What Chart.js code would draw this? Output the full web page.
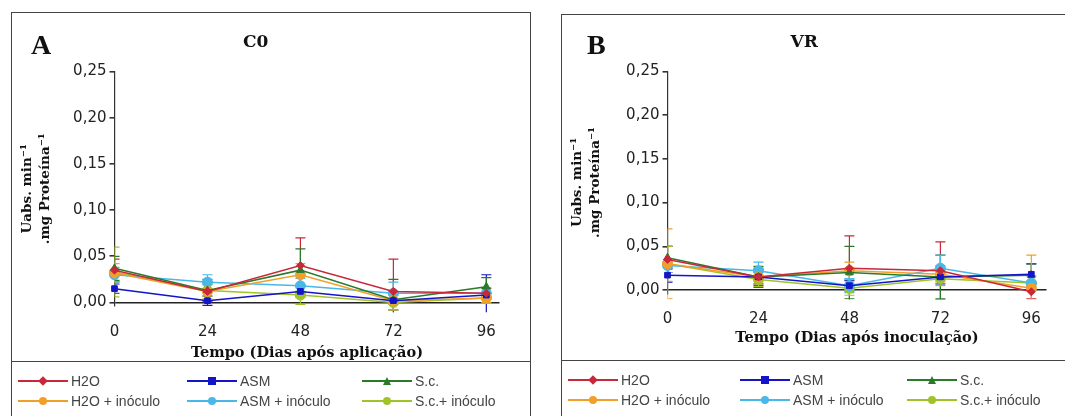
<!DOCTYPE html>
<html>
<head>
<meta charset="utf-8">
<script src="https://cdn.jsdelivr.net/npm/chart.js@4"></script>
<style>
body{margin:0;background:#fff;width:1065px;height:416px;overflow:hidden;position:relative;font-family:"Liberation Sans",Arial,sans-serif}
.panel{position:absolute;border:1.5px solid #444}
#pA{left:11px;top:12px;width:518px;height:420px}
#pB{left:561px;top:14px;width:520px;height:420px}
.panel canvas{position:absolute;left:0;top:0}
.tag{position:absolute;font:bold 28px "Liberation Serif",serif;color:#111}
.leg{position:absolute;left:0;right:0;height:80px;border-top:1.5px solid #444}
.it{position:absolute;height:16px;font-size:14px;color:#444;display:flex;align-items:center;white-space:nowrap}
.sw{position:relative;width:50px;height:16px;margin-right:3px}
.ln{position:absolute;left:0;right:0;top:7px;height:1.5px}
.mk{position:absolute;left:21px;top:4px;width:8px;height:8px}
</style>
</head>
<body>
<div class="panel" id="pA">
  <canvas id="chartA" width="518" height="349"></canvas>
  <div class="tag" style="left:19px;top:16px">A</div>
  <div class="leg" id="legA" style="top:348px"></div>
</div>
<div class="panel" id="pB">
  <canvas id="chartB" width="503" height="346"></canvas>
  <div class="tag" style="left:25px;top:14px">B</div>
  <div class="leg" id="legB" style="top:345px"></div>
</div>
<script>
// tempo (dias)
const days = [0, 24, 48, 72, 96];
const yTicks = [0, 0.05, 0.10, 0.15, 0.20, 0.25];
const seriesNames = ['H2O', 'ASM', 'S.c.', 'H2O + inóculo', 'ASM + inóculo', 'S.c.+ inóculo'];

// A - C0
const c0H2O     = [0.035, 0.012, 0.040, 0.012, 0.010];
const c0ASM     = [0.015, 0.002, 0.012, 0.002, 0.008];
const c0Sc      = [0.037, 0.013, 0.035, 0.003, 0.017];
const c0H2Oinoc = [0.032, 0.012, 0.030, 0.002, 0.005];
const c0ASMinoc = [0.030, 0.022, 0.018, 0.010, 0.010];
const c0Scinoc  = [0.033, 0.013, 0.008, 0.000, 0.005];
// desvios
const c0H2Oerr     = [0.012, 0.010, 0.030, 0.035, 0.005];
const c0ASMerr     = [0.005, 0.005, 0.006, 0.010, 0.022];
const c0Scerr      = [0.013, 0.012, 0.023, 0.022, 0.010];
const c0H2Oinocerr = [0.010, 0.008, 0.012, 0.010, 0.005];
const c0ASMinocerr = [0.008, 0.008, 0.008, 0.012, 0.006];
const c0Scinocerr  = [0.027, 0.006, 0.010, 0.008, 0.006];

// B - VR
const vrH2O     = [0.035, 0.015, 0.025, 0.022, -0.002];
const vrASM     = [0.017, 0.015, 0.005, 0.015, 0.018];
const vrSc      = [0.037, 0.015, 0.020, 0.015, 0.017];
const vrH2Oinoc = [0.030, 0.015, 0.022, 0.018, 0.002];
const vrASMinoc = [0.028, 0.022, 0.005, 0.025, 0.008];
const vrScinoc  = [0.030, 0.012, 0.002, 0.013, 0.008];
const vrH2Oerr     = [0.015, 0.010, 0.037, 0.033, 0.008];
const vrASMerr     = [0.008, 0.008, 0.006, 0.008, 0.012];
const vrScerr      = [0.013, 0.012, 0.030, 0.025, 0.013];
const vrH2Oinocerr = [0.040, 0.008, 0.010, 0.010, 0.038];
const vrASMinocerr = [0.008, 0.010, 0.008, 0.015, 0.008];
const vrScinocerr  = [0.020, 0.008, 0.008, 0.008, 0.008];

const styles = [
  {color: '#c8283a', shape: 'rectRot', r: 4},
  {color: '#1414c8', shape: 'rect', r: 4},
  {color: '#2a7a2a', shape: 'triangle', r: 4.5},
  {color: '#f0a028', shape: 'circle', r: 5},
  {color: '#48b8e8', shape: 'circle', r: 5},
  {color: '#a0c428', shape: 'circle', r: 5}
];

const errorBars = {
  id: 'errorBars',
  beforeDatasetsDraw(chart) {
    const {ctx, chartArea, scales: {x, y}} = chart;
    ctx.save();
    ctx.beginPath();
    ctx.rect(chartArea.left, chartArea.top - 10, chartArea.right - chartArea.left, chartArea.bottom - chartArea.top + 16);
    ctx.clip();
    chart.data.datasets.forEach(ds => {
      ctx.strokeStyle = ds.borderColor;
      ctx.lineWidth = 1.2;
      ds.data.forEach((p, j) => {
        const px = x.getPixelForValue(p.x);
        const top = y.getPixelForValue(p.y + ds.err[j]);
        const bot = y.getPixelForValue(p.y - ds.err[j]);
        ctx.beginPath();
        ctx.moveTo(px, top); ctx.lineTo(px, bot);
        ctx.moveTo(px - 5, top); ctx.lineTo(px + 5, top);
        ctx.moveTo(px - 5, bot); ctx.lineTo(px + 5, bot);
        ctx.stroke();
      });
    });
    ctx.restore();
  }
};

function makeChart(id, title, xTitle, values, errs, geo) {
  const datasets = seriesNames.map((name, i) => ({
    label: name,
    data: days.map((d, j) => ({x: d, y: values[i][j]})),
    err: errs[i],
    borderColor: styles[i].color,
    backgroundColor: styles[i].color,
    pointStyle: styles[i].shape,
    pointRadius: styles[i].r,
    pointBorderWidth: 1,
    borderWidth: 1.5,
    clip: 8
  }));
  return new Chart(document.getElementById(id), {
    type: 'line',
    data: {datasets},
    options: {
      responsive: false,
      animation: false,
      layout: {padding: {left: 0, top: 0, bottom: 0, right: geo.padRight}},
      plugins: {
        legend: {display: false},
        tooltip: {enabled: false},
        title: {
          display: true, text: title, color: '#111',
          font: {family: 'DejaVu Serif', size: 17, weight: 'bold'},
          padding: {top: geo.titleTop, bottom: geo.titleBottom}
        }
      },
      scales: {
        x: {
          type: 'linear', min: 0, max: geo.xMax,
          afterBuildTicks: s => { s.ticks = days.map(v => ({value: v})); },
          afterFit: s => { s.height = geo.xHeight; },
          grid: {display: false},
          border: {display: false},
          ticks: {padding: geo.xPad, color: '#222', font: {family: 'DejaVu Sans', size: 15}},
          title: {
            display: true, text: xTitle, color: '#111',
            font: {family: 'DejaVu Serif', size: 14.5, weight: 'bold'},
            padding: {top: 0, bottom: geo.xTitleBottom}
          }
        },
        y: {
          min: -0.004, max: 0.25,
          afterBuildTicks: s => { s.ticks = yTicks.map(v => ({value: v})); },
          afterFit: s => { s.width = geo.yWidth; },
          grid: {
            color: c => (c.tick && c.tick.value === 0) ? '#222' : 'rgba(0,0,0,0)',
            lineWidth: 1.6, tickColor: '#333', tickLength: 5
          },
          border: {display: true, color: '#333', width: 1.2},
          ticks: {
            padding: 3, color: '#222', font: {family: 'DejaVu Sans', size: 15},
            callback: v => v.toFixed(2).replace('.', ',')
          },
          title: {
            display: true, text: ['Uabs. min⁻¹', '.mg Proteína⁻¹'], color: '#111',
            font: {family: 'DejaVu Serif', size: 13.5, weight: 'bold', lineHeight: 1.35},
            padding: {top: geo.yTitlePad, bottom: 0}
          }
        }
      }
    },
    plugins: [errorBars]
  });
}

function makeLegend(elId, chart, cols) {
  const el = document.getElementById(elId);
  chart.data.datasets.forEach((ds, i) => {
    const it = document.createElement('div');
    it.className = 'it';
    it.style.left = cols[i % 3] + 'px';
    it.style.top = (i < 3 ? 11 : 31) + 'px';
    const sw = document.createElement('div');
    sw.className = 'sw';
    const ln = document.createElement('div');
    ln.className = 'ln';
    ln.style.background = ds.borderColor;
    const mk = document.createElement('div');
    mk.className = 'mk';
    mk.style.background = ds.borderColor;
    if (ds.pointStyle === 'rectRot') mk.style.transform = 'rotate(45deg) scale(0.85)';
    if (ds.pointStyle === 'circle') mk.style.borderRadius = '50%';
    if (ds.pointStyle === 'triangle') mk.style.clipPath = 'polygon(50% 0,100% 100%,0 100%)';
    sw.appendChild(ln); sw.appendChild(mk);
    it.appendChild(sw);
    it.appendChild(document.createTextNode(ds.label));
    el.appendChild(it);
  });
}

const chartA = makeChart('chartA', 'C0', 'Tempo (Dias após aplicação)',
  [c0H2O, c0ASM, c0Sc, c0H2Oinoc, c0ASMinoc, c0Scinoc],
  [c0H2Oerr, c0ASMerr, c0Scerr, c0H2Oinocerr, c0ASMinocerr, c0Scinocerr],
  {padRight: 30.5, titleTop: 19.5, titleBottom: 18.5, xMax: 99.4, xHeight: 55.8, xPad: 9, xTitleBottom: 0.5, yWidth: 102.5, yTitlePad: 6});

const chartB = makeChart('chartB', 'VR', 'Tempo (Dias após inoculação)',
  [vrH2O, vrASM, vrSc, vrH2Oinoc, vrASMinoc, vrScinoc],
  [vrH2Oerr, vrASMerr, vrScerr, vrH2Oinocerr, vrASMinocerr, vrScinocerr],
  {padRight: 18.5, titleTop: 17.5, titleBottom: 18.6, xMax: 100, xHeight: 67.5, xPad: 8.5, xTitleBottom: 14, yWidth: 105.5, yTitlePad: 6});

makeLegend('legA', chartA, [6, 175, 350]);
makeLegend('legB', chartB, [6, 178, 345]);
</script>
</body>
</html>
